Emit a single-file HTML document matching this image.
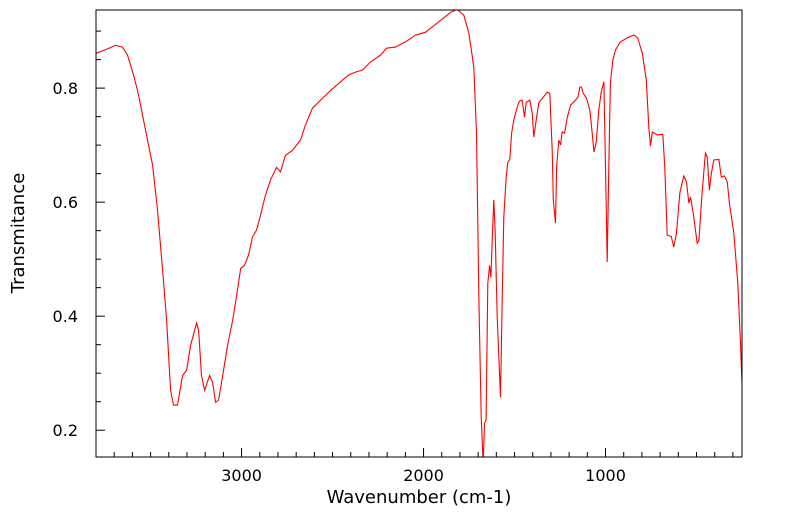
<!DOCTYPE html>
<html><head><meta charset="utf-8"><style>
body{margin:0;background:#fff;width:799px;height:516px;overflow:hidden}
svg{display:block;font-family:"DejaVu Sans","Liberation Sans",sans-serif}
</style></head><body>
<svg id="chart" width="799" height="516">
<defs><clipPath id="pc"><rect x="96" y="10" width="646" height="447"/></clipPath></defs>
<g id="axes"></g>
<polyline id="spectrum" fill="none" stroke="#ff0000" stroke-width="1.1" clip-path="url(#pc)"/>
<rect x="96" y="10" width="646" height="447" fill="none" stroke="#000" stroke-width="1"/>
<text x="419" y="503" font-size="18" text-anchor="middle">Wavenumber (cm-1)</text>
<text transform="translate(24,233) rotate(-90)" font-size="18" text-anchor="middle">Transmitance</text>
</svg>
<script>
const wavenumbers=[3800,3750,3692,3655,3627,3594,3572,3555,3517,3489,3462,3434,3412,3390,3374,3352,3324,3302,3280,3247,3236,3220,3203,3176,3159,3143,3126,3104,3077,3049,3027,3005,2984,2962,2940,2918,2896,2869,2841,2808,2786,2759,2720,2676,2649,2610,2566,2511,2456,2412,2374,2335,2291,2236,2203,2154,2099,2044,1989,1934,1879,1852,1815,1779,1751,1724,1709,1696,1683,1672,1665,1656,1647,1637,1630,1623,1614,1606,1595,1577,1568,1559,1546,1537,1526,1516,1504,1485,1473,1458,1445,1436,1416,1403,1394,1381,1366,1342,1320,1306,1293,1287,1275,1269,1257,1247,1238,1225,1210,1192,1165,1152,1141,1132,1123,1104,1086,1073,1064,1051,1037,1024,1009,1000,991,982,973,960,945,918,881,844,823,798,776,762,753,743,731,716,685,674,661,639,625,610,592,570,555,542,533,518,496,487,469,451,441,429,418,405,377,364,346,331,319,295,273,258,250];
const transmittance=[0.861,0.867,0.875,0.872,0.858,0.823,0.796,0.770,0.709,0.665,0.586,0.481,0.393,0.270,0.244,0.244,0.296,0.305,0.349,0.388,0.375,0.296,0.270,0.296,0.284,0.249,0.253,0.296,0.349,0.393,0.437,0.484,0.489,0.507,0.539,0.551,0.577,0.612,0.639,0.661,0.653,0.682,0.691,0.709,0.735,0.765,0.779,0.796,0.811,0.823,0.828,0.832,0.846,0.858,0.870,0.872,0.881,0.893,0.898,0.912,0.926,0.933,0.938,0.928,0.896,0.837,0.721,0.428,0.223,0.140,0.212,0.218,0.458,0.489,0.468,0.533,0.604,0.546,0.398,0.258,0.428,0.574,0.644,0.670,0.675,0.721,0.744,0.767,0.777,0.779,0.749,0.775,0.779,0.756,0.714,0.744,0.775,0.784,0.793,0.791,0.691,0.604,0.563,0.661,0.709,0.700,0.723,0.721,0.749,0.770,0.779,0.784,0.802,0.802,0.791,0.782,0.761,0.721,0.688,0.705,0.761,0.793,0.811,0.661,0.495,0.661,0.809,0.849,0.867,0.881,0.888,0.893,0.888,0.861,0.814,0.732,0.698,0.723,0.721,0.718,0.719,0.661,0.542,0.540,0.521,0.546,0.616,0.646,0.635,0.598,0.609,0.581,0.528,0.533,0.616,0.686,0.679,0.621,0.651,0.674,0.675,0.644,0.646,0.635,0.598,0.546,0.458,0.353,0.282];
const xTicks=[3000,2000,1000];
const yTicks=[0.2,0.4,0.6,0.8];
const xMin=250,xMax=3800,yMin=0.153,yMax=0.937;
const L=96,R=742,T=10,B=457;
function sx(w){return L+(xMax-w)/(xMax-xMin)*(R-L);}
function sy(v){return B-(v-yMin)/(yMax-yMin)*(B-T);}
const NS='http://www.w3.org/2000/svg';
const ax=document.getElementById('axes');
function mk(tag,attrs){const e=document.createElementNS(NS,tag);for(const k in attrs)e.setAttribute(k,attrs[k]);ax.appendChild(e);return e;}
for(let w=300;w<=3800;w+=100){
  const major=xTicks.includes(w);
  const t=mk('line',{x1:sx(w),x2:sx(w),y1:B,y2:B-(major?9:5),stroke:'#000','stroke-width':1});
  
  
}
xTicks.forEach(w=>{
  const t=mk('text',{x:sx(w),y:B+24,'font-size':16,'text-anchor':'middle'});
  t.textContent=w;
  
  
});
for(let k=4;k<=18;k++){
  const v=k*0.05;
  const major=yTicks.some(y=>Math.abs(y-v)<1e-6);
  const t=mk('line',{x1:L,x2:L+(major?9:5),y1:sy(v),y2:sy(v),stroke:'#000','stroke-width':1});
  
  
}
yTicks.forEach(v=>{
  const t=mk('text',{x:L-18,y:sy(v)+6,'font-size':16,'text-anchor':'end'});
  t.textContent=v.toFixed(1);
  
  
});
document.getElementById('spectrum').setAttribute('points',wavenumbers.map((w,i)=>sx(w).toFixed(1)+','+sy(transmittance[i]).toFixed(1)).join(' '));
</script>
</body></html>
